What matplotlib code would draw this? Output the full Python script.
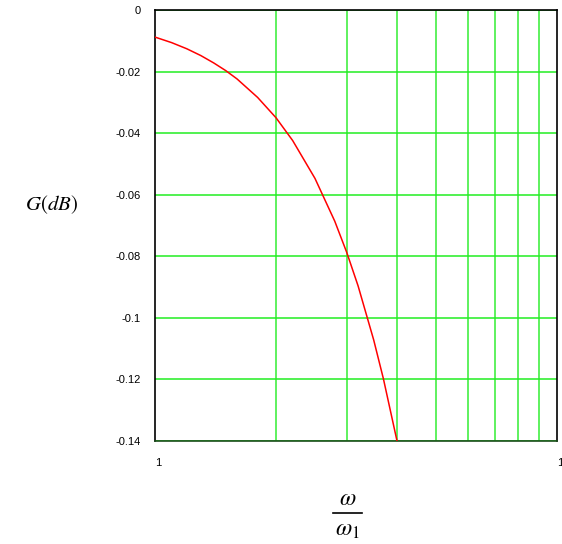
import matplotlib
matplotlib.use("Agg")
import matplotlib.pyplot as plt
from matplotlib.ticker import FixedLocator, NullFormatter
from matplotlib.lines import Line2D

ratio = [1.0, 1.1, 1.2, 1.3, 1.4, 1.5, 1.6, 1.8, 2.0, 2.2, 2.5, 2.8, 3.0, 3.2, 3.5, 3.7, 4.0]
gain_db = [-0.0088, -0.0106, -0.0126, -0.0148, -0.0172, -0.0197, -0.0224, -0.0284, -0.0350,
           -0.0424, -0.0547, -0.0686, -0.0788, -0.0896, -0.1072, -0.1198, -0.1400]
yticks = [0, -0.02, -0.04, -0.06, -0.08, -0.1, -0.12, -0.14]
ytick_labels = ["0", "-0.02", "-0.04", "-0.06", "-0.08", "-0.1", "-0.12", "-0.14"]
xticks = [1, 10]
xtick_labels = ["1", "10"]
xgrid = [2, 3, 4, 5, 6, 7, 8, 9]

plt.rcParams['font.family'] = ['Liberation Sans', 'DejaVu Sans']
plt.rcParams['mathtext.fontset'] = 'stix'

fig = plt.figure(figsize=(5.62, 5.44), dpi=100)
ax = fig.add_axes([155/562, 1-441/544, 402/562, 431/544])
ax.set_xscale('log')
ax.set_xlim(1, 10)
ax.set_ylim(-0.14, 0)

for g in xgrid:
    ax.axvline(g, color='#33ee33', lw=1.1, zorder=1)
for yv in yticks:
    ax.axhline(yv, color='#22ee22', lw=1.1, zorder=1)

ax.plot(ratio, gain_db, color='red', lw=1.1, zorder=3, clip_on=True)

ax.xaxis.set_major_locator(FixedLocator(xticks))
ax.xaxis.set_minor_locator(FixedLocator([]))
ax.xaxis.set_minor_formatter(NullFormatter())
ax.set_xticks(xticks)
ax.set_xticklabels(xtick_labels, fontsize=8)
ax.set_yticks(yticks)
ax.set_yticklabels(ytick_labels, fontsize=8)
ax.tick_params(axis='both', length=0)
ax.tick_params(axis='y', pad=10)
ax.tick_params(axis='x', pad=12)
for lbl in ax.get_xticklabels():
    lbl.set_horizontalalignment('left')

for s in ax.spines.values():
    s.set_color('black')
    s.set_linewidth(1.2)
ax.spines['bottom'].set_color('#1a4d1a')

fig.text(52/562, 1-205/544, r"$G(dB)$", fontsize=15, ha='center', va='center')
fig.text(348/562, 1-499/544, r"$\omega$", fontsize=17, ha='center', va='center')
fig.add_artist(Line2D([333/562, 362/562], [1-513/544, 1-513/544], color='black', lw=1.2,
                      transform=fig.transFigure))
fig.text(347/562, 1-530/544, r"$\omega_1$", fontsize=17, ha='center', va='center')

fig.savefig("out.png", dpi=100)
